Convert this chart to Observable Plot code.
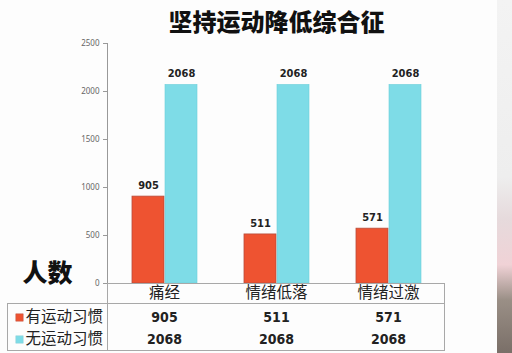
<!DOCTYPE html>
<html>
<head>
<meta charset="utf-8">
<script src="https://cdn.jsdelivr.net/npm/d3@7"></script>
<script src="https://cdn.jsdelivr.net/npm/@observablehq/plot@0.6"></script>
<style>
  html, body { margin: 0; padding: 0; background: #fff; }
  #wrap { position: relative; width: 512px; height: 353px; overflow: hidden; background: #fdfdfd; }
  .ln { position: absolute; background: #a8a8a8; }
  #strip { position: absolute; left: 497px; top: 0; width: 15px; height: 353px;
    background: linear-gradient(to bottom, #f3f3f3 0%, #eeeeee 50%, #e6dadc 62%, #f0d2d6 75%, #9a8f86 85%, #7a6f68 100%); }
</style>
</head>
<body>
<div id="wrap">
  <div id="chart"></div>
  <div class="ln" style="left:7px;top:303px;width:437px;height:1px"></div>
  <div class="ln" style="left:7px;top:350px;width:437px;height:1px"></div>
  <div class="ln" style="left:7px;top:303px;width:1px;height:48px"></div>
  <div class="ln" style="left:107px;top:283px;width:1px;height:68px"></div>
  <div class="ln" style="left:444px;top:283px;width:1px;height:68px"></div>
  <div id="strip"></div>
</div>
<script>
const title = "坚持运动降低综合征";
const yLabel = "人数";
const categories = ["痛经", "情绪低落", "情绪过激"];
const seriesNames = ["有运动习惯", "无运动习惯"];
const withExercise = [905, 511, 571];
const withoutExercise = [2068, 2068, 2068];
const yTicks = [0, 500, 1000, 1500, 2000, 2500];

const colors = ["#ee5331", "#7edce7"];
const numFont = "'DejaVu Sans Condensed', 'Liberation Sans Narrow', sans-serif";
const cjk = "'Noto Sans CJK SC', sans-serif";

const s1 = categories.map((c, i) => ({category: c, value: withExercise[i]}));
const s2 = categories.map((c, i) => ({category: c, value: withoutExercise[i]}));

const chart = Plot.plot({
  width: 512,
  height: 353,
  marginLeft: 107,
  marginRight: 67,
  marginTop: 43,
  marginBottom: 70,
  style: {background: "transparent", overflow: "visible"},
  x: {type: "band", domain: categories, padding: 0, axis: null},
  y: {
    domain: [0, 2500],
    ticks: yTicks,
    tickFormat: d => String(d),
    tickSize: 4,
    tickPadding: 4,
    line: true,
    label: null
  },
  marks: [
    Plot.barY(s1, {x: "category", y: "value", fill: colors[0], stroke: "#b84c3a", strokeWidth: 0.8, insetLeft: 24, insetRight: 56}),
    Plot.barY(s2, {x: "category", y: "value", fill: colors[1], stroke: "#6ccfdb", strokeWidth: 0.6, insetLeft: 57, insetRight: 23}),
    Plot.ruleY([0], {stroke: "#a8a8a8"}),
    Plot.text(s1, {x: "category", y: "value", text: d => String(d.value), dx: -16, dy: -11,
      fontFamily: numFont, fontWeight: "bold", fontSize: 11, fill: "#222"}),
    Plot.text(s2, {x: "category", y: "value", text: d => String(d.value), dx: 17, dy: -12,
      fontFamily: numFont, fontWeight: "bold", fontSize: 11, fill: "#222"}),
    // table: category row
    Plot.text(categories, {x: d => d, y: () => 0, text: d => d, dy: 10,
      fontFamily: cjk, fontSize: 15.5, fill: "#222"}),
    // table: values
    Plot.text(s1, {x: "category", y: () => 0, text: d => String(d.value), dy: 34,
      fontFamily: numFont, fontWeight: "bold", fontSize: 14, fill: "#222"}),
    Plot.text(s2, {x: "category", y: () => 0, text: d => String(d.value), dy: 56,
      fontFamily: numFont, fontWeight: "bold", fontSize: 14, fill: "#222"}),
    // table: series labels with swatches
    Plot.dot([0], {y: () => 0, frameAnchor: "left", dx: -88, dy: 34, symbol: "square", r: 4.2,
      fill: colors[0], stroke: "#c05a48", strokeWidth: 0.5}),
    Plot.dot([0], {y: () => 0, frameAnchor: "left", dx: -88, dy: 56, symbol: "square", r: 4.2,
      fill: colors[1], stroke: "#8fd0d6", strokeWidth: 0.5}),
    Plot.text([seriesNames[0]], {y: () => 0, frameAnchor: "left", text: d => d, dx: -82, dy: 34,
      textAnchor: "start", fontFamily: cjk, fontSize: 15.5, fill: "#222"}),
    Plot.text([seriesNames[1]], {y: () => 0, frameAnchor: "left", text: d => d, dx: -82, dy: 56,
      textAnchor: "start", fontFamily: cjk, fontSize: 15.5, fill: "#222"}),
    // y label
    Plot.text([yLabel], {frameAnchor: "bottom-left", text: d => d, dx: -60, dy: -2, textAnchor: "middle",
      fontFamily: cjk, fontWeight: 900, fontSize: 25, fill: "#111"}),
    // title
    Plot.text([title], {frameAnchor: "top", text: d => d, dy: -30,
      fontFamily: cjk, fontWeight: 900, fontSize: 24, fill: "#111"})
  ]
});

chart.querySelectorAll("text").forEach(t => {
  const ff = t.getAttribute("font-family") || (t.parentNode && t.parentNode.getAttribute && t.parentNode.getAttribute("font-family")) || "";
  if (ff.includes("DejaVu Sans Condensed")) t.style.fontStretch = "condensed";
});
chart.style.fontSize = "8px";
chart.style.color = "#999";
chart.querySelectorAll("g[aria-label='y-axis tick label'] text, g[aria-label='y-axis'] text").forEach(t => t.setAttribute("fill", "#666"));
document.getElementById("chart").appendChild(chart);
</script>
</body>
</html>
